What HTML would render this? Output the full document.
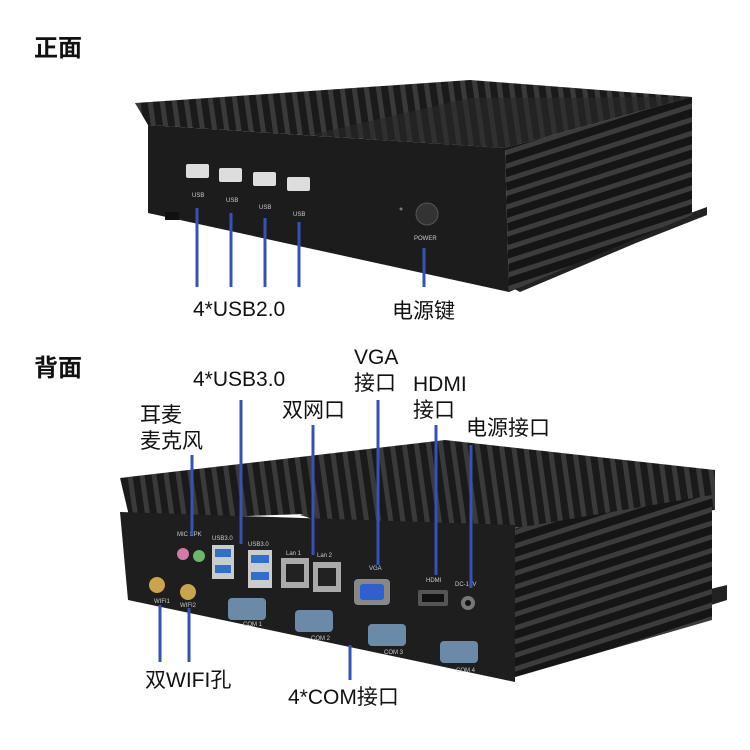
<!DOCTYPE html>
<html><head><meta charset="utf-8"><style>
html,body{margin:0;padding:0;background:#fff;}
svg{display:block}
text{font-family:"Liberation Sans","Noto Sans CJK SC",sans-serif;fill:#111;}
</style></head><body>
<svg width="750" height="750" viewBox="0 0 750 750" xmlns="http://www.w3.org/2000/svg">
<defs>
<pattern id="fin" width="12" height="12" patternUnits="userSpaceOnUse" patternTransform="rotate(-8)">
<rect width="12" height="12" fill="#1a1a1a"/><rect width="5" height="12" fill="#3a3a3a"/></pattern>
<pattern id="finh" width="12" height="13" patternUnits="userSpaceOnUse" patternTransform="rotate(-18)">
<rect width="12" height="13" fill="#151515"/><rect width="12" height="5" fill="#3c3c3c"/></pattern>
</defs>

<!-- TOP DEVICE -->
<polygon points="501,282 707,207 707,215 636,243 520,292" fill="#222"/>
<polygon points="135,103 470,80 692,97 505,148 148,125" fill="url(#fin)"/>
<polygon points="310,135 470,98 692,97 505,148" fill="#2a2a2a" opacity="0.6"/>
<polygon points="505,148 692,97 692,215 509,292" fill="url(#finh)"/>
<polygon points="148,125 505,148 509,292 148,213" fill="#1c1c1c"/>
<g fill="#ddd">
<rect x="186" y="164" width="23" height="14" rx="2"/><rect x="219" y="168" width="23" height="14" rx="2"/>
<rect x="253" y="172" width="23" height="14" rx="2"/><rect x="287" y="177" width="23" height="14" rx="2"/>
</g>
<g font-size="6"><text x="192" y="197" style="fill:#ccc">USB</text><text x="226" y="202" style="fill:#ccc">USB</text><text x="259" y="209" style="fill:#ccc">USB</text><text x="293" y="216" style="fill:#ccc">USB</text><text x="414" y="240" style="fill:#ccc">POWER</text></g>
<circle cx="427" cy="214" r="11" fill="#333" stroke="#555"/>
<circle cx="401" cy="209" r="1.5" fill="#777"/>
<rect x="165" y="212" width="14" height="8" fill="#111"/>

<g stroke="#3353b8" stroke-width="3">
<line x1="197" y1="208" x2="197" y2="287"/><line x1="231" y1="213" x2="231" y2="287"/>
<line x1="265" y1="218" x2="265" y2="287"/><line x1="299" y1="222" x2="299" y2="287"/>
<line x1="424" y1="248" x2="424" y2="287"/>
</g>
<text x="34" y="56" font-size="24" font-weight="bold">正面</text>
<text x="193" y="316" font-size="21">4*USB2.0</text>
<text x="392" y="318" font-size="21">电源键</text>

<!-- BOTTOM DEVICE -->
<polygon points="500,640 727,585 727,600 520,665" fill="#222"/>
<polygon points="120,478 445,440 715,470 715,500 130,520" fill="url(#fin)"/>
<polygon points="300,515 460,475 715,470 715,510 380,540" fill="url(#fin)"/>
<polygon points="505,530 712,495 712,620 505,680" fill="url(#finh)"/>
<polygon points="120,512 515,525 515,682 128,600" fill="#1e1e1e"/>
<!-- ports -->
<circle cx="183" cy="554" r="6" fill="#d57aa8"/><circle cx="199" cy="556" r="6" fill="#6ab86a"/>
<rect x="212" y="545" width="22" height="34" fill="#ccc"/><rect x="215" y="549" width="16" height="8" fill="#2e6fd0"/><rect x="215" y="565" width="16" height="8" fill="#2e6fd0"/>
<rect x="248" y="550" width="24" height="38" fill="#ccc"/><rect x="251" y="555" width="18" height="8" fill="#2e6fd0"/><rect x="251" y="572" width="18" height="8" fill="#2e6fd0"/>
<rect x="281" y="558" width="28" height="30" fill="#aaa"/><rect x="313" y="562" width="28" height="30" fill="#aaa"/>
<rect x="286" y="564" width="18" height="18" fill="#222"/><rect x="318" y="568" width="18" height="18" fill="#222"/>
<rect x="354" y="579" width="36" height="26" rx="4" fill="#888"/><rect x="360" y="584" width="24" height="16" rx="3" fill="#2f5fd0"/>
<rect x="418" y="590" width="30" height="16" rx="2" fill="#555"/><rect x="422" y="594" width="22" height="8" fill="#111"/>
<circle cx="468" cy="603" r="7" fill="#777"/><circle cx="468" cy="603" r="3" fill="#111"/>
<g fill="#6a8aa8"><rect x="228" y="598" width="38" height="22" rx="4"/><rect x="295" y="610" width="38" height="22" rx="4"/><rect x="368" y="624" width="38" height="22" rx="4"/><rect x="440" y="641" width="38" height="22" rx="4"/></g>
<g fill="#c9a44a"><circle cx="157" cy="585" r="8"/><circle cx="188" cy="592" r="8"/></g>
<g font-size="6">
<text x="177" y="536" style="fill:#ccc">MIC SPK</text><text x="212" y="540" style="fill:#ccc">USB3.0</text><text x="248" y="546" style="fill:#ccc">USB3.0</text>
<text x="286" y="555" style="fill:#ccc">Lan 1</text><text x="317" y="557" style="fill:#ccc">Lan 2</text><text x="369" y="570" style="fill:#ccc">VGA</text>
<text x="426" y="582" style="fill:#ccc">HDMI</text><text x="455" y="586" style="fill:#ccc">DC-12V</text>
<text x="154" y="603" style="fill:#ccc">WIFI1</text><text x="180" y="607" style="fill:#ccc">WIFI2</text>
<text x="243" y="626" style="fill:#ccc">COM 1</text><text x="311" y="640" style="fill:#ccc">COM 2</text><text x="384" y="654" style="fill:#ccc">COM 3</text><text x="456" y="672" style="fill:#ccc">COM 4</text>
</g>

<g stroke="#3353b8" stroke-width="3">
<line x1="241" y1="400" x2="241" y2="544"/><line x1="313" y1="425" x2="313" y2="555"/>
<line x1="378" y1="400" x2="378" y2="565"/><line x1="436" y1="425" x2="436" y2="575"/>
<line x1="471" y1="445" x2="471" y2="588"/><line x1="192" y1="455" x2="192" y2="535"/>
<line x1="160" y1="605" x2="160" y2="662"/><line x1="189" y1="608" x2="189" y2="662"/>
<line x1="350" y1="645" x2="350" y2="680"/>
</g>
<text x="34" y="376" font-size="24" font-weight="bold">背面</text>
<text x="193" y="386" font-size="21">4*USB3.0</text>
<text x="354" y="364" font-size="21">VGA</text><text x="354" y="390" font-size="21">接口</text>
<text x="413" y="391" font-size="21">HDMI</text><text x="413" y="417" font-size="21">接口</text>
<text x="466" y="435" font-size="21">电源接口</text>
<text x="282" y="417" font-size="21">双网口</text>
<text x="140" y="422" font-size="21">耳麦</text><text x="140" y="448" font-size="21">麦克风</text>
<text x="145" y="687" font-size="21">双WIFI孔</text>
<text x="288" y="704" font-size="21">4*COM接口</text>
</svg>
</body></html>
